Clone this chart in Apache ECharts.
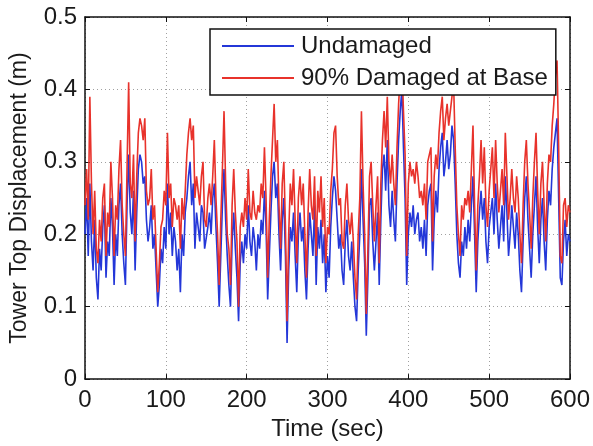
<!DOCTYPE html>
<html><head><meta charset="utf-8">
<script src="https://cdn.jsdelivr.net/npm/echarts@6/dist/echarts.min.js"></script>
<style>html,body{margin:0;padding:0;background:#fff}#c{width:593px;height:446px}</style>
</head><body><div id="c"></div>
<script>
const step = 2; // sample spacing in seconds
const undamaged = [
.20,.25,.17,.27,.19,.15,.22,.14,.11,.18,
.15,.21,.24,.14,.19,.17,.25,.21,.13,.20,
.17,.24,.27,.20,.16,.13,.24,.31,.23,.20,
.26,.15,.23,.29,.31,.30,.27,.28,.22,.19,
.21,.24,.18,.20,.15,.10,.13,.18,.16,.21,
.18,.27,.20,.23,.17,.21,.19,.15,.18,.12,
.20,.17,.23,.25,.28,.30,.24,.27,.18,.23,
.21,.19,.24,.23,.18,.18,.21,.23,.20,.25,
.27,.21,.16,.10,.17,.24,.29,.22,.17,.13,
.10,.19,.23,.18,.14,.08,.16,.19,.16,.20,
.18,.24,.19,.17,.21,.19,.15,.20,.18,.22,
.20,.26,.21,.11,.17,.23,.28,.30,.25,.27,
.20,.15,.22,.25,.17,.05,.15,.21,.19,.23,
.17,.12,.20,.23,.19,.21,.15,.11,.18,.23,
.20,.17,.24,.13,.21,.18,.22,.16,.20,.12,
.17,.14,.21,.25,.28,.26,.22,.18,.20,.15,
.13,.19,.22,.17,.15,.19,.14,.10,.08,.15,
.20,.29,.22,.16,.06,.14,.24,.25,.19,.15,
.19,.23,.13,.22,.29,.31,.26,.33,.24,.21,
.26,.22,.19,.27,.33,.37,.40,.32,.25,.13,
.20,.23,.21,.24,.20,.22,.23,.19,.21,.18,
.22,.17,.24,.26,.27,.15,.22,.26,.23,.29,
.32,.34,.28,.30,.33,.29,.31,.35,.33,.27,
.20,.16,.14,.19,.17,.21,.18,.22,.19,.24,
.28,.20,.12,.19,.23,.26,.22,.25,.19,.16,
.21,.23,.25,.20,.27,.22,.18,.21,.24,.19,
.28,.23,.17,.20,.24,.21,.18,.23,.20,.15,
.12,.19,.25,.28,.22,.18,.14,.20,.24,.28,
.21,.16,.22,.25,.19,.15,.22,.26,.24,.29,
.32,.34,.36,.25,.14,.13,.19,.22,.17,.20,
.19];
const damaged = [
.24,.29,.22,.39,.27,.20,.26,.18,.16,.22,
.19,.25,.27,.17,.23,.21,.30,.25,.17,.24,
.22,.29,.33,.24,.20,.17,.29,.41,.27,.25,
.31,.19,.28,.34,.36,.35,.33,.36,.26,.24,
.25,.29,.22,.24,.18,.12,.16,.21,.22,.26,
.24,.34,.25,.27,.21,.25,.24,.22,.24,.18,
.25,.22,.26,.31,.34,.36,.33,.35,.25,.28,
.26,.24,.28,.30,.22,.21,.25,.27,.24,.28,
.33,.25,.20,.13,.22,.29,.37,.27,.20,.18,
.13,.24,.29,.23,.19,.10,.21,.23,.21,.25,
.22,.29,.23,.22,.26,.23,.22,.24,.23,.27,
.25,.32,.25,.14,.22,.28,.33,.38,.30,.33,
.24,.18,.27,.30,.21,.08,.20,.27,.24,.29,
.22,.16,.25,.28,.24,.27,.20,.14,.23,.29,
.24,.22,.28,.17,.26,.23,.28,.21,.25,.16,
.21,.20,.26,.29,.34,.35,.28,.24,.25,.19,
.18,.24,.27,.22,.20,.23,.19,.14,.11,.20,
.25,.37,.27,.20,.09,.18,.28,.30,.24,.19,
.24,.28,.16,.27,.33,.37,.32,.39,.30,.27,
.31,.27,.24,.32,.38,.42,.44,.37,.31,.17,
.27,.30,.28,.29,.27,.30,.28,.25,.26,.24,
.27,.22,.30,.31,.32,.19,.28,.31,.29,.34,
.37,.39,.33,.36,.38,.35,.37,.39,.41,.32,
.24,.20,.17,.24,.22,.25,.24,.26,.23,.29,
.35,.24,.15,.24,.28,.33,.27,.32,.24,.21,
.26,.29,.32,.25,.33,.27,.23,.26,.29,.24,
.34,.28,.22,.25,.29,.25,.23,.28,.25,.20,
.16,.24,.30,.33,.27,.23,.18,.25,.30,.34,
.26,.20,.27,.30,.24,.19,.27,.31,.30,.35,
.38,.42,.44,.32,.17,.16,.24,.25,.21,.24,
.23];
const seriesNames = ['Undamaged', '90% Damaged at Base'];
const xTicks = [0, 100, 200, 300, 400, 500, 600];
const yTicks = [0, 0.1, 0.2, 0.3, 0.4, 0.5];

const FONT = 'Liberation Sans, Arial, Helvetica, sans-serif';
const toPairs = arr => arr.map((v, i) => [i * step, v]);
const chart = echarts.init(document.getElementById('c'), null, {renderer: 'canvas'});
const gridLine = {show: true, lineStyle: {color: '#a0a0a0', type: [1, 3], width: 1}};
const axLine = {show: true, onZero: false, lineStyle: {color: '#111', width: 1.5}};
const tick = {show: true, inside: true, length: 5, lineStyle: {color: '#111', width: 1}};
chart.setOption({
  animation: false,
  backgroundColor: '#fff',
  grid: {left: 84, right: 19, top: 17, bottom: 64, containLabel: false},
  legend: {
    orient: 'vertical', left: 210, top: 29,
    padding: [4, 8, 4, 12], itemGap: 6,
    itemWidth: 72, itemHeight: 2, icon: 'rect',
    backgroundColor: '#fff', borderColor: '#111', borderWidth: 1.5,
    textStyle: {fontFamily: FONT, fontSize: 24, color: '#1a1a1a', padding: [0, 0, 0, 2], lineHeight: 26},
    data: seriesNames
  },
  xAxis: [{
    type: 'value', min: xTicks[0], max: xTicks[xTicks.length - 1], interval: 100,
    name: 'Time (sec)', nameLocation: 'middle', nameGap: 36,
    nameTextStyle: {fontFamily: FONT, fontSize: 24, color: '#1a1a1a'},
    axisLine: axLine, axisTick: tick, splitLine: gridLine,
    axisLabel: {fontFamily: FONT, fontSize: 24, color: '#1a1a1a', margin: 9}
  }, {
    type: 'value', position: 'top', min: xTicks[0], max: xTicks[xTicks.length - 1], interval: 100,
    axisLine: axLine, axisTick: tick, axisLabel: {show: false}, splitLine: {show: false}
  }],
  yAxis: [{
    type: 'value', min: yTicks[0], max: yTicks[yTicks.length - 1], interval: 0.1,
    name: 'Tower Top Displacement (m)', nameLocation: 'middle', nameGap: 54,
    nameTextStyle: {fontFamily: FONT, fontSize: 23, color: '#1a1a1a'},
    axisLine: axLine, axisTick: tick, splitLine: gridLine,
    axisLabel: {fontFamily: FONT, fontSize: 24, color: '#1a1a1a', margin: 8}
  }, {
    type: 'value', position: 'right', min: yTicks[0], max: yTicks[yTicks.length - 1], interval: 0.1,
    axisLine: axLine, axisTick: tick, axisLabel: {show: false}, splitLine: {show: false}
  }],
  series: [{
    name: seriesNames[0], type: 'line', data: toPairs(undamaged),
    symbol: 'none', color: '#2437d8', lineStyle: {width: 1.6}, z: 2
  }, {
    name: seriesNames[1], type: 'line', data: toPairs(damaged),
    symbol: 'none', color: '#e8322b', lineStyle: {width: 1.6}, z: 3
  }]
});
</script></body></html>
